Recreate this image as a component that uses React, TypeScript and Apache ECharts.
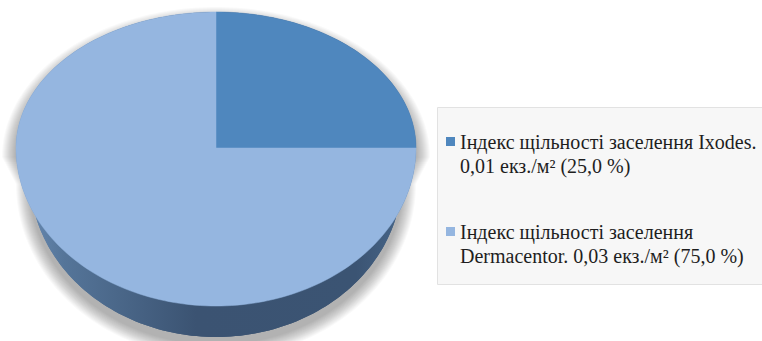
import React, { useEffect, useRef } from "react";
import * as echarts from "echarts";

// ---- data ----
const species: string[] = ["Ixodes", "Dermacentor"];
const densityValues: number[] = [0.01, 0.03];
const sliceColors: string[] = ["#4f87be", "#95b6e0"];
const legendPrefix = "Індекс щільності заселення";
const unitText = "екз./м²";
// where each legend entry breaks its first line: after the species name (true) or before it (false)
const breakAfterSpecies: boolean[] = [true, false];

// ---- geometry of the 3D pie (layout, not data) ----
const CX = 216;
const CY = 148;
const RX = 200;
const RY_TOP = 136;
const RY_BOT = 158;
const DEPTH = 29;
const RX_B = 186;
const RY_TOP_B = 136;
const RY_BOT_B = 160;

function topPt(phi: number, e = 0, dy = 0): number[] {
  const c = Math.cos(phi);
  const ry = (c >= 0 ? RY_TOP : RY_BOT) + e;
  return [CX + (RX + e) * Math.sin(phi), CY + dy - ry * c];
}
function botPt(phi: number, e = 0, dy = 0): number[] {
  const c = Math.cos(phi);
  const ry = (c >= 0 ? RY_TOP_B : RY_BOT_B) + e;
  return [CX + (RX_B + e) * Math.sin(phi), CY + DEPTH + dy - ry * c];
}
function arc(fn: (p: number) => number[], a: number, b: number): number[][] {
  const n = Math.max(2, Math.ceil(((b - a) / (2 * Math.PI)) * 240));
  const pts: number[][] = [];
  for (let k = 0; k <= n; k++) pts.push(fn(a + ((b - a) * k) / n));
  return pts;
}
function sliceAngles(i: number): [number, number] {
  const total = densityValues.reduce((s, v) => s + v, 0);
  let start = 0;
  for (let j = 0; j < i; j++) start += densityValues[j];
  return [
    (start / total) * 2 * Math.PI,
    ((start + densityValues[i]) / total) * 2 * Math.PI,
  ];
}

const wallGradient = () =>
  new echarts.graphic.LinearGradient(0, 0, 1, 0, [
    { offset: 0, color: "#6d8fb8" },
    { offset: 0.12, color: "#557599" },
    { offset: 0.45, color: "#3b5372" },
    { offset: 0.85, color: "#3b5473" },
    { offset: 1, color: "#4a6a8e" },
  ]);

const fmt = (v: number, d: number) => v.toFixed(d).replace(".", ",");

export default function App() {
  const ref = useRef<HTMLDivElement>(null);
  useEffect(() => {
    if (!ref.current) return;
    const chart = echarts.init(ref.current, null, { renderer: "svg" });
    const total = densityValues.reduce((s, v) => s + v, 0);

    const graphics: any[] = [
      {
        type: "rect",
        z: -10,
        shape: { x: 437.5, y: 107.5, width: 340, height: 177 },
        style: { fill: "#f7f7f7", stroke: "#e2e2e2", lineWidth: 1 },
      },
    ];
    const titles: any[] = [];
    const firstLineY = [142, 232];
    const lineGap = 23.5;
    species.forEach((sp, i) => {
      const pct = fmt((densityValues[i] / total) * 100, 1);
      const valPart = `${fmt(densityValues[i], 2)} ${unitText} (${pct} %)`;
      const lines = breakAfterSpecies[i]
        ? [`${legendPrefix} ${sp}.`, valPart]
        : [legendPrefix, `${sp}. ${valPart}`];
      graphics.push({
        type: "rect",
        shape: { x: 446, y: firstLineY[i] - 5, width: 9, height: 9 },
        style: { fill: sliceColors[i] },
      });
      lines.forEach((ln, k) => {
        titles.push({
          text: ln,
          left: 460,
          top: firstLineY[i] + k * lineGap - 11,
          padding: 0,
          textStyle: {
            fontFamily: "Liberation Serif",
            fontSize: 20,
            fontWeight: "normal",
            color: "#1e1e1e",
            lineHeight: 22,
          },
        });
      });
    });

    const seriesData = species.map((sp, i) => ({ name: sp, value: densityValues[i] }));

    chart.setOption({
      animation: false,
      backgroundColor: "#ffffff",
      textStyle: { fontFamily: "Liberation Serif" },
      title: titles,
      series: [
        {
          type: "custom",
          coordinateSystem: "none",
          data: seriesData,
          silent: true,
          renderItem: (params: any) => {
            const i = params.dataIndex;
            const [a, b] = sliceAngles(i);
            const children: any[] = [];
            if (i === 0) {
              for (let e = 14; e >= 1; e -= 1) {
                const dy = 9;
                const sil = arc((p) => topPt(p, e, dy), -Math.PI / 2, Math.PI / 2).concat(
                  arc((p) => botPt(p, e, dy - 2), Math.PI / 2, (3 * Math.PI) / 2)
                );
                children.push({
                  type: "polygon",
                  shape: { points: sil },
                  style: { fill: "rgba(0,0,0,0.024)" },
                });
              }
              const sil = arc(topPt, -Math.PI / 2, Math.PI / 2).concat(
                arc(botPt, Math.PI / 2, (3 * Math.PI) / 2)
              );
              children.push({
                type: "polygon",
                shape: { points: sil },
                style: { fill: wallGradient() },
              });
            }
            const wa = Math.max(a, Math.PI / 2);
            const wb = Math.min(b, (3 * Math.PI) / 2);
            if (wa < wb) {
              const pts = arc(topPt, wa, wb).concat(arc(botPt, wa, wb).reverse());
              children.push({
                type: "polygon",
                shape: { points: pts },
                style: { fill: wallGradient() },
              });
            }
            return { type: "group", children };
          },
        },
        {
          type: "custom",
          coordinateSystem: "none",
          data: seriesData,
          silent: true,
          renderItem: (params: any) => {
            const i = params.dataIndex;
            const [a, b] = sliceAngles(i);
            const pts = [[CX, CY]].concat(arc(topPt, a, b));
            return {
              type: "polygon",
              shape: { points: pts },
              style: { fill: sliceColors[i], stroke: sliceColors[i], lineWidth: 0.5 },
            };
          },
        },
      ],
      graphic: graphics,
    });
    return () => chart.dispose();
  }, []);
  return (
    <div
      ref={ref}
      style={{ position: "fixed", left: 0, top: 0, width: 762, height: 341 }}
    />
  );
}
